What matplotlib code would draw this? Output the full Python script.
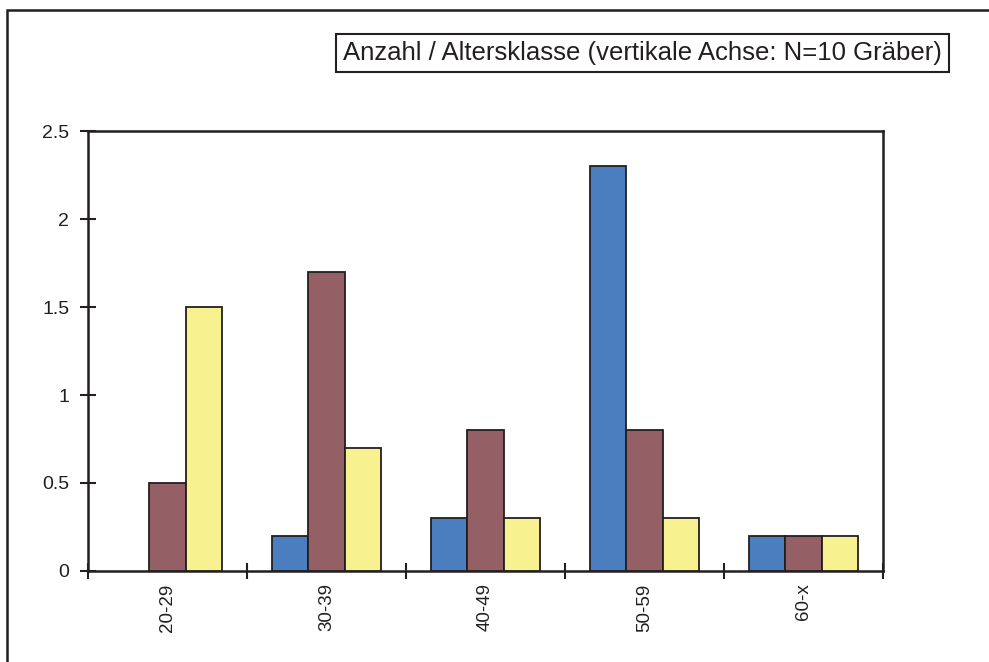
import matplotlib
matplotlib.use('Agg')
import matplotlib.pyplot as plt
import matplotlib.patches as mpatches
import numpy as np

plt.rcParams['font.family'] = ['Liberation Sans', 'DejaVu Sans']

categories = ['20-29', '30-39', '40-49', '50-59', '60-x']
series_a = [0.0, 0.2, 0.3, 2.3, 0.2]
series_b = [0.5, 1.7, 0.8, 0.8, 0.2]
series_c = [1.5, 0.7, 0.3, 0.3, 0.2]
colors = ['#4a7ebf', '#946065', '#f7f18f']
title = 'Anzahl / Altersklasse (vertikale Achse: N=10 Gräber)'

fig = plt.figure(figsize=(9.89, 6.62), dpi=100)
ax = fig.add_axes([0.089, 0.1375, 0.804, 0.6645])

x = np.arange(len(categories))
w = 0.229
for i, (vals, c) in enumerate(zip([series_a, series_b, series_c], colors)):
    vals = np.array(vals)
    keep = vals > 0  # empty bars get no outline
    ax.bar(x[keep] + (i - 1) * w, vals[keep], w, color=c, edgecolor='#231f20', linewidth=1.3, zorder=3)

ax.set_xlim(-0.5, len(categories) - 0.5)
ax.set_ylim(0, 2.5)
ax.set_yticks([0, 0.5, 1, 1.5, 2, 2.5])
ax.set_yticklabels(['0', '0.5', '1', '1.5', '2', '2.5'])
ax.set_xticks(np.arange(len(categories) + 1) - 0.5)
ax.set_xticklabels([])
ax.set_xticks(x, minor=True)
ax.set_xticklabels(categories, minor=True, rotation=90, fontsize=13.5, color='#231f20')
ax.tick_params(axis='x', which='minor', length=0, pad=9)
ax.tick_params(axis='x', which='major', direction='inout', length=11, width=1.5, color='#231f20')
ax.tick_params(axis='y', direction='inout', length=11, width=1.5, color='#231f20',
               labelsize=14, labelcolor='#231f20', pad=8)
for s in ax.spines.values():
    s.set_linewidth(1.8)
    s.set_color('#231f20')

# outer frame
fig.patches.append(mpatches.Rectangle((7 / 989, -0.1), 1.2, 1.1 - 10 / 662, transform=fig.transFigure,
                                      fill=False, edgecolor='#231f20', linewidth=1.8))

fig.text(0.650, 0.920, title, ha='center', va='center', fontsize=18.5, color='#231f20',
         bbox=dict(boxstyle='square,pad=0.28', facecolor='white', edgecolor='#231f20', linewidth=1.5))

fig.savefig('out.png', dpi=100)
